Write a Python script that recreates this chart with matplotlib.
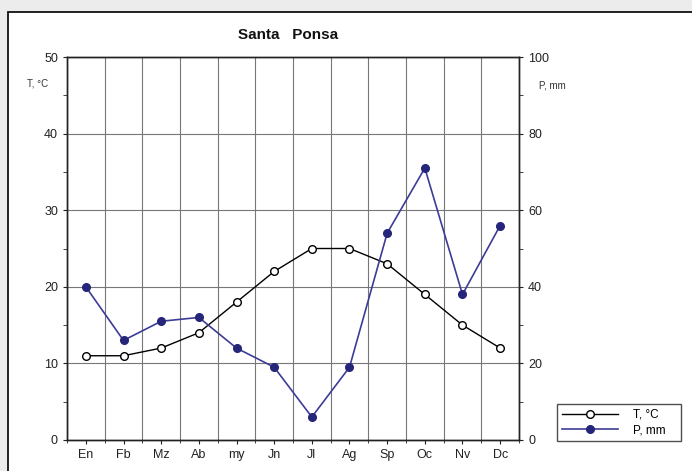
import matplotlib.pyplot as plt
import numpy as np
from matplotlib.patches import Rectangle
from matplotlib.lines import Line2D

meses = ['En', 'Fb', 'Mz', 'Ab', 'my', 'Jn', 'Jl', 'Ag', 'Sp', 'Oc', 'Nv', 'Dc']
temp = [11, 11, 12, 14, 18, 22, 25, 25, 23, 19, 15, 12]
prec = [40, 26, 31, 32, 24, 19, 6, 19, 54, 71, 38, 56]

plt.rcParams['font.family'] = ['Liberation Sans', 'DejaVu Sans']

fig = plt.figure(figsize=(6.92, 4.71), dpi=100, facecolor='#ececec')
# marco exterior (detras de los ejes)
fig.patches.append(Rectangle((8 / 692, -0.01), 0.99, (471 - 12) / 471 + 0.01,
                             transform=fig.transFigure, facecolor='white',
                             edgecolor='#111111', linewidth=1.3, zorder=-10))
ax = fig.add_axes([67 / 692, 1 - 440 / 471, 452 / 692, 383 / 471])

x = np.arange(len(meses))
ax.set_xlim(-0.5, 11.5)
ax.set_ylim(0, 50)
ax.set_yticks(np.arange(0, 51, 10))
ax.set_yticks(np.arange(5, 50, 10), minor=True)
ax.set_xticks(x)
ax.set_xticklabels(meses, fontsize=8.5, color='#333333')
ax.set_xticks(np.arange(-0.5, 12, 1), minor=True)
ax.grid(True, which='minor', axis='x', color='#777777', linewidth=0.8)
ax.grid(True, which='major', axis='y', color='#777777', linewidth=0.8)
ax.tick_params(axis='both', which='both', direction='out', length=3, labelsize=9, colors='#222222')
ax.tick_params(axis='x', which='minor', length=2)

ax.plot(x, temp, color='black', linewidth=1, marker='o', markersize=5.5,
        markerfacecolor='white', markeredgecolor='black', zorder=4, clip_on=False)

ax2 = ax.twinx()
ax2.set_ylim(0, 100)
ax2.set_yticks(np.arange(0, 101, 20))
ax2.set_yticks(np.arange(10, 100, 20), minor=True)
ax2.tick_params(axis='y', which='both', direction='out', length=3, labelsize=9, colors='#222222')
ax2.plot(x, prec, color='#3c3c96', linewidth=1.2, marker='o', markersize=5.5,
         markerfacecolor='#25257a', markeredgecolor='#25257a', zorder=4, clip_on=False)

for a in (ax, ax2):
    for s in a.spines.values():
        s.set_color('#222222')
        s.set_linewidth(1)

fig.text(288 / 692, 1 - 35 / 471, 'Santa   Ponsa', ha='center', va='center',
         fontsize=11, fontweight='bold', color='#111111')
fig.text(38 / 692, 1 - 84 / 471, 'T, °C', ha='center', va='center', fontsize=7, color='#333333')
fig.text(552 / 692, 1 - 85 / 471, 'P, mm', ha='center', va='center', fontsize=7, color='#333333')

handles = [
    Line2D([], [], color='black', linewidth=1, marker='o', markersize=5.5,
           markerfacecolor='white', markeredgecolor='black'),
    Line2D([], [], color='#3c3c96', linewidth=1.2, marker='o', markersize=5.5,
           markerfacecolor='#25257a', markeredgecolor='#25257a'),
]
leg = fig.legend(handles, ['T, °C', 'P, mm'], loc='lower left',
                 bbox_to_anchor=(557 / 692, 1 - 441 / 471, 124 / 692, 49 / 471),
                 mode='expand', fontsize=8.5, frameon=True, fancybox=False,
                 edgecolor='#222222', handlelength=4.8, handletextpad=1.2,
                 borderaxespad=0, labelspacing=0.3)
leg.get_frame().set_linewidth(1)

fig.savefig('out.png', dpi=100, facecolor=fig.get_facecolor())
